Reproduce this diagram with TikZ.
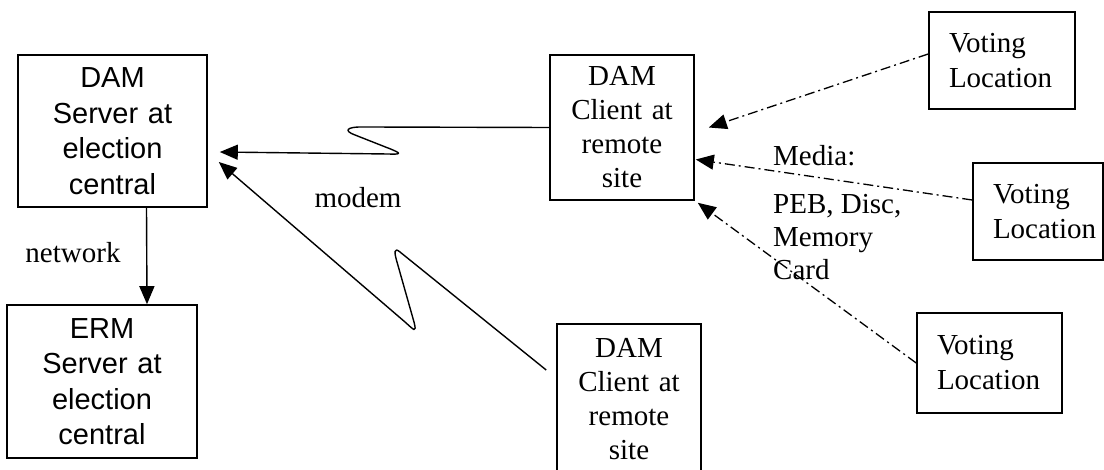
\documentclass[tikz,border=0pt]{standalone}
\usepackage{fontspec}
\setmainfont{Liberation Serif}
\newfontfamily\arialfam{Liberation Sans}
\usetikzlibrary{arrows.meta,calc}
\begin{document}
\begin{tikzpicture}[x=1pt,y=-1pt]
\tikzset{
  box/.style={draw, line width=1.6pt, inner sep=0pt, align=center},
  sansbox/.style={box, font=\arialfam\fontsize{29}{35.5}\selectfont, text width=180pt},
  serifbox/.style={box, font=\fontsize{29}{34}\selectfont, text width=140pt},
  votebox/.style={box, font=\fontsize{29}{35}\selectfont, align=left, inner xsep=20pt},
  lbl/.style={font=\fontsize{29}{33}\selectfont, inner sep=0pt},
  tip/.style={-{Triangle[length=18pt,width=15pt]}},
  link/.style={line width=1.4pt, tip, line join=round},
  mediaflow/.style={line width=1.3pt, tip, dash pattern=on 10pt off 4pt on 2pt off 4pt},
}
\useasboundingbox (0,0) rectangle (1104,470);

% servers at election central
\node[sansbox, minimum width=189pt, minimum height=152pt] (dams) at (112.5,131) {DAM\\Server at\\election\\central};
\node[sansbox, minimum width=190pt, minimum height=153pt] (erm) at (102,381.5) {ERM\\Server at\\election\\central};

% remote clients
\node[serifbox, minimum width=144pt, minimum height=145pt] (dcl) at (622,127.5) {DAM\\Client at\\remote\\site};
\node[serifbox, minimum width=144pt, minimum height=151pt] (dcl2) at (629,399.5) {DAM\\Client at\\remote\\site};

% voting locations
\node[votebox, text width=106pt, minimum height=97pt] (v1) at (1002,60.5) {Voting\\Location};
\node[votebox, text width=90pt, minimum height=97pt] (v2) at (1038,211.5) {Voting\\Location};
\node[votebox, text width=105pt, minimum height=100pt] (v3) at (989.5,363) {Voting\\Location};

% labels
\node[lbl, anchor=base] (net) at (73,263) {network};
\node[lbl, anchor=base] (modem) at (358,208) {modem};
\node[lbl, anchor=north west, align=left] (medlbl) at (773,145) {Media:\\[15pt]PEB, Disc,\\Memory\\Card};

% network link
\draw[link] ($(dams.south)+(34,0)$) -- ($(erm.north)+(45,0)$);

% modem links (zig-zag)
\draw[link] (dcl.west) -- (365,127) .. controls (345,126.5) and (344,131) .. (355,135)
  -- (388,148) .. controls (402,153.5) and (402,154.5) .. (388,154)
  -- ($(dams.east)+(12,21)$);
\draw[link] ($(dcl2.west)+(-10,-29.5)$) -- (400,252) .. controls (394,247) and (394,252) .. (397,262)
  -- (414,322) .. controls (417,334) and (414,330) .. (405,322)
  -- ($(dams.east)+(11,31)$);

% media transport from voting locations
\draw[mediaflow] ($(v1.west)+(0,-6.5)$) -- ($(dcl.east)+(14,0)$);
\draw[mediaflow] ($(v2.west)+(0,-11.5)$) -- ($(dcl.east)+(1,32)$);
\draw[mediaflow] (v3.west) -- ($(dcl.south east)+(3,2)$);
\end{tikzpicture}
\end{document}
